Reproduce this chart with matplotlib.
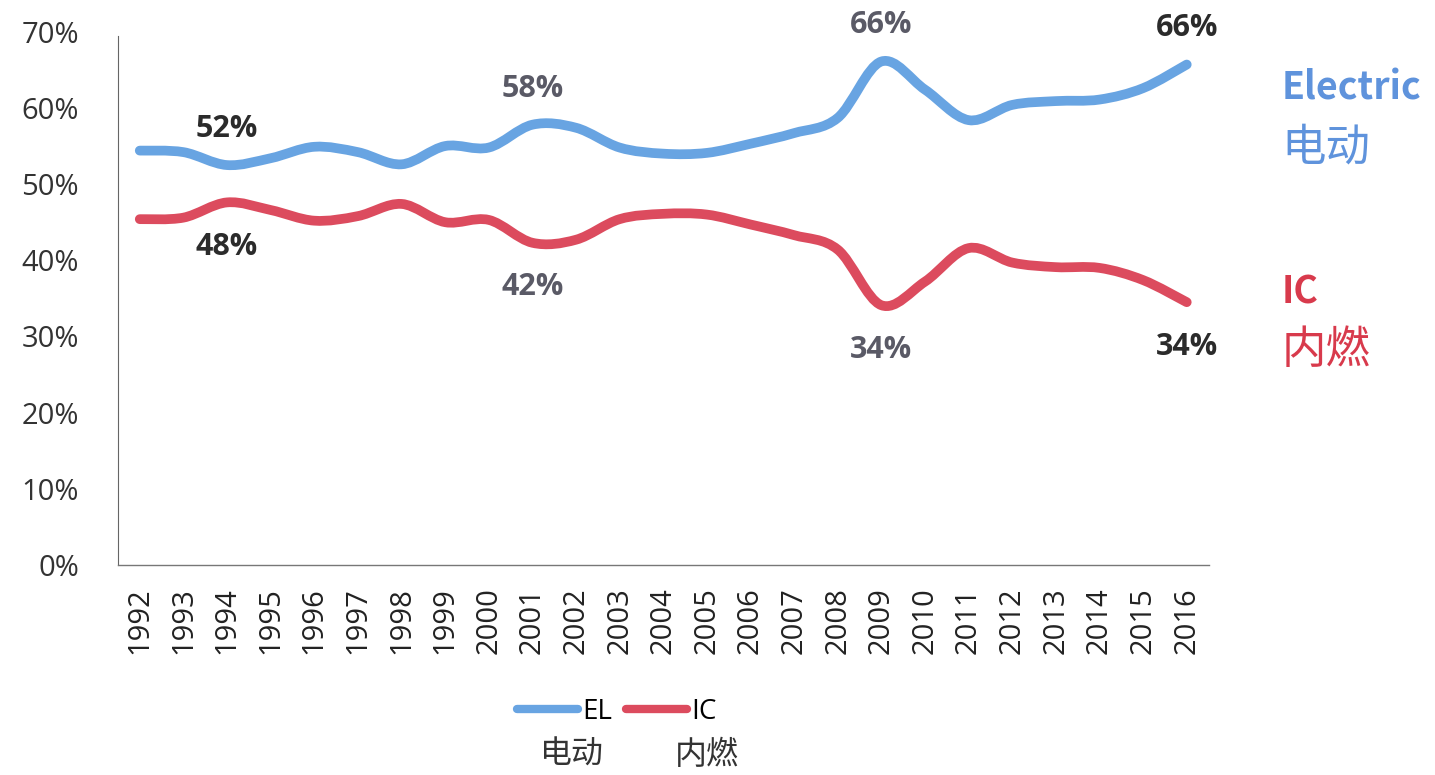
import numpy as np
import matplotlib
matplotlib.use('Agg')
import matplotlib.pyplot as plt
from matplotlib.path import Path
from matplotlib.patches import PathPatch
from matplotlib.lines import Line2D
from matplotlib.ticker import PercentFormatter

# 数据 (从图中读取, 单位 %)
years = [str(y) for y in range(1992, 2017)]
el_share = [54.4, 54.2, 52.5, 53.4, 54.9, 54.2, 52.6, 55.0, 54.8, 57.8, 57.4, 54.8,
            54.0, 54.1, 55.3, 56.7, 58.7, 66.1, 62.4, 58.4, 60.4, 60.9, 61.1, 62.6, 65.7]
ic_share = [45.4, 45.6, 47.6, 46.6, 45.2, 45.8, 47.4, 45.0, 45.3, 42.3, 42.7, 45.4,
            46.1, 46.0, 44.7, 43.3, 41.4, 34.1, 37.2, 41.6, 39.7, 39.1, 39.0, 37.4, 34.5]
yticks = [0, 10, 20, 30, 40, 50, 60, 70]

# 数据标签: (年份索引, 文本, 颜色)
el_labels = [(2, '52%', '#2b2b2b'), (9, '58%', '#5a5a66'), (17, '66%', '#5a5a66'), (24, '66%', '#2b2b2b')]
ic_labels = [(2, '48%', '#2b2b2b'), (9, '42%', '#5a5a66'), (17, '34%', '#5a5a66'), (24, '34%', '#2b2b2b')]

EL_COLOR = '#68a4e2'
IC_COLOR = '#dc4b5e'
CJK = ['Noto Sans CJK SC', 'DejaVu Sans']


def smooth_path(xs, ys):
    """Catmull-Rom 平滑曲线 -> 三次贝塞尔 Path"""
    pts = np.column_stack([xs, ys]).astype(float)
    ext = np.vstack([pts[0], pts, pts[-1]])
    verts = [pts[0]]
    codes = [Path.MOVETO]
    for i in range(len(pts) - 1):
        p0, p1, p2, p3 = ext[i], ext[i + 1], ext[i + 2], ext[i + 3]
        verts += [p1 + (p2 - p0) / 6, p2 - (p3 - p1) / 6, p2]
        codes += [Path.CURVE4] * 3
    return Path(verts, codes)


fig = plt.figure(figsize=(14.35, 7.75), dpi=100)
ax = fig.add_axes([0.0822, 0.271, 0.76, 0.688])

x = np.arange(len(years))
for vals, col in [(el_share, EL_COLOR), (ic_share, IC_COLOR)]:
    ax.add_patch(PathPatch(smooth_path(x, vals), fill=False, edgecolor=col,
                           lw=7, capstyle='round', joinstyle='round'))

ax.set_xlim(-0.5, len(years) - 0.5)
ax.set_ylim(0, 70)
ax.set_yticks(yticks)
ax.yaxis.set_major_formatter(PercentFormatter(decimals=0))
ax.set_xticks(x)
ax.set_xticklabels(years, rotation=90, fontsize=21, family='Open Sans', color='#222222')
for lab in ax.get_yticklabels():
    lab.set_fontsize(21)
    lab.set_family('Open Sans')
    lab.set_color('#333333')
ax.tick_params(axis='y', length=0, pad=28)
ax.tick_params(axis='x', length=0, pad=16)
for s in ['top', 'right']:
    ax.spines[s].set_visible(False)
ax.spines['left'].set_color('#666666')
ax.spines['left'].set_linewidth(0.8)
ax.spines['left'].set_bounds(0, 69.5)
ax.spines['bottom'].set_color('#777777')
ax.spines['bottom'].set_linewidth(1.0)

# 数据标签
for idx, txt, col in el_labels:
    ax.annotate(txt, (idx, el_share[idx]), xytext=(0, 26), textcoords='offset points',
                ha='center', va='center', fontsize=22, fontweight='bold',
                family='Open Sans', color=col)
for idx, txt, col in ic_labels:
    ax.annotate(txt, (idx, ic_share[idx]), xytext=(0, -32), textcoords='offset points',
                ha='center', va='center', fontsize=22, fontweight='bold',
                family='Open Sans', color=col)

# 右侧系列名称
fig.text(0.893, 1 - 88 / 775, 'Electric', ha='left', va='center', fontsize=27,
         fontweight='bold', family=CJK, color='#5f93dc')
fig.text(0.893, 1 - 147 / 775, '电动', ha='left', va='center', fontsize=32,
         family=CJK, color='#5f93dc')
fig.text(0.893, 1 - 292 / 775, 'IC', ha='left', va='center', fontsize=27,
         fontweight='bold', family=CJK, color='#d83a4c')
fig.text(0.893, 1 - 350 / 775, '内燃', ha='left', va='center', fontsize=32,
         family=CJK, color='#d83a4c')

# 图例
handles = [Line2D([], [], color=EL_COLOR, lw=6, solid_capstyle='round'),
           Line2D([], [], color=IC_COLOR, lw=6, solid_capstyle='round')]
fig.legend(handles, ['EL', 'IC'], loc='center', bbox_to_anchor=(617 / 1435, 1 - 712 / 775),
           ncol=2, frameon=False, handlelength=2.2, handletextpad=0.15, columnspacing=0.5,
           prop={'family': 'Open Sans', 'size': 20})
fig.text(572 / 1435, 1 - 755 / 775, '电动', ha='center', va='center', fontsize=23,
         family=CJK, color='#333333')
fig.text(707 / 1435, 1 - 755 / 775, '内燃', ha='center', va='center', fontsize=23,
         family=CJK, color='#333333')

fig.savefig('out.png', dpi=100)
